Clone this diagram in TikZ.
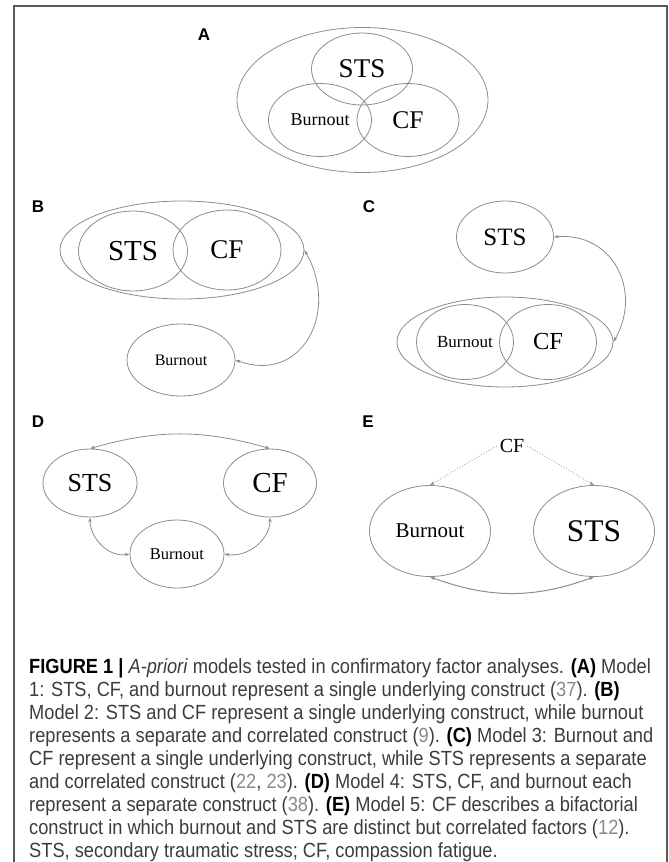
\documentclass[tikz,border=0pt]{standalone}
\usepackage{fontspec}
\setmainfont{Liberation Serif}
\setsansfont{Liberation Sans}
\newfontfamily\capfont[FakeStretch=0.89]{Liberation Sans}
\usetikzlibrary{shapes.geometric,arrows.meta}
\definecolor{linegray}{HTML}{8C8C8C}
\definecolor{framegray}{HTML}{5A5A5A}
\definecolor{textgray}{HTML}{3C3C3C}
\definecolor{refgray}{HTML}{8A8A8A}
\newcommand{\fsz}[1]{\fontsize{#1}{#1}\selectfont}
\newcommand{\refno}[1]{{\color{refgray}#1}}
\tikzset{
	factor/.style={ellipse, draw=linegray, line width=0.8pt, inner sep=0pt},
	panellabel/.style={font=\sffamily\bfseries\fsz{17}},
	corr/.style={{Stealth[length=5pt,width=3.5pt]}-{Stealth[length=5pt,width=3.5pt]}, draw=linegray, line width=0.8pt},
	load/.style={-{Stealth[length=5pt,width=3.5pt]}, draw=linegray, dotted, line width=0.8pt},
}
\begin{document}
\begin{tikzpicture}[x=1pt,y=-1pt]
		\useasboundingbox (0,0) rectangle (669,862);
		%Frame, open at the bottom
		\draw[framegray, line width=2pt] (14,862) -- (14,6) -- (667,6) -- (667,862);
		%Model 1
		\node[panellabel] (labA) at (204,35) {A};
		\node[factor, minimum width=251pt, minimum height=145pt] (outA) at (362.5,100) {};
		\node[factor, minimum width=101pt, minimum height=72pt, font=\fsz{27}] (stsA) at (362,69) {STS};
		\node[factor, minimum width=103pt, minimum height=73pt, font=\fsz{18}] (burnA) at (320,120) {Burnout};
		\node[factor, minimum width=102pt, minimum height=73pt, font=\fsz{25.5}] (cfA) at (408,120) {CF};
		%Model 2
		\node[panellabel] (labB) at (38,207) {B};
		\node[factor, minimum width=244pt, minimum height=98pt] (outB) at (182,250) {};
		\node[factor, minimum width=109pt, minimum height=80pt, font=\fsz{29}] (stsB) at (133,251) {STS};
		\node[factor, minimum width=108pt, minimum height=80pt, font=\fsz{27}] (cfB) at (227,250) {CF};
		\node[factor, minimum width=108pt, minimum height=72pt, font=\fsz{16}] (burnB) at (181,360) {Burnout};
		\draw[corr] (outB.east) to[out=-60, in=-20, looseness=1.4] (burnB.east);
		%Model 3
		\node[panellabel] (labC) at (369,207) {C};
		\node[factor, minimum width=97pt, minimum height=72pt, font=\fsz{25}] (stsC) at (505,237) {STS};
		\node[factor, minimum width=216pt, minimum height=90pt] (outC) at (505,342) {};
		\node[factor, minimum width=97pt, minimum height=75pt, font=\fsz{17}] (burnC) at (465,342) {Burnout};
		\node[factor, minimum width=97pt, minimum height=75pt, font=\fsz{24.5}] (cfC) at (548,342) {CF};
		\draw[corr] (stsC.east) to[out=5, in=60, looseness=1.25] (outC.east);
		%Model 4
		\node[panellabel] (labD) at (38,422) {D};
		\node[factor, minimum width=94pt, minimum height=68pt, font=\fsz{26}] (stsD) at (90,483) {STS};
		\node[factor, minimum width=93pt, minimum height=68pt, font=\fsz{29}] (cfD) at (270,483) {CF};
		\node[factor, minimum width=94pt, minimum height=68pt, font=\fsz{16.5}] (burnD) at (177,554) {Burnout};
		\draw[corr] (stsD.north) to[bend left=16] (cfD.north);
		\draw[corr] (stsD.south) to[out=-90, in=190] (burnD.west);
		\draw[corr] (cfD.south) to[out=-90, in=-10] (burnD.east);
		%Model 5
		\node[panellabel] (labE) at (368,422) {E};
		\node[font=\fsz{20}, inner sep=3pt] (cfE) at (512,446) {CF};
		\node[factor, minimum width=121pt, minimum height=91pt, font=\fsz{21}] (burnE) at (430,531) {Burnout};
		\node[factor, minimum width=121pt, minimum height=91pt, font=\fsz{31.5}] (stsE) at (594,531) {STS};
		\draw[load] (cfE.west) -- (burnE.north);
		\draw[load] (cfE.east) -- (stsE.north);
		\draw[corr, line width=1pt] (burnE.south) to[bend right=20] (stsE.south);
		%Caption
		\node[anchor=north west, align=left, inner sep=0pt, text=textgray, font=\capfont\fontsize{20.5}{23}\selectfont] (caption) at (29,658) {%
			{\color{black}\textbf{FIGURE 1 |}} \textit{A-priori} models tested in confirmatory factor analyses. {\color{black}\textbf{(A)}} Model\\
			1: STS, CF, and burnout represent a single underlying construct (\refno{37}). {\color{black}\textbf{(B)}}\\
			Model 2: STS and CF represent a single underlying construct, while burnout\\
			represents a separate and correlated construct (\refno{9}). {\color{black}\textbf{(C)}} Model 3: Burnout and\\
			CF represent a single underlying construct, while STS represents a separate\\
			and correlated construct (\refno{22}, \refno{23}). {\color{black}\textbf{(D)}} Model 4: STS, CF, and burnout each\\
			represent a separate construct (\refno{38}). {\color{black}\textbf{(E)}} Model 5: CF describes a bifactorial\\
			construct in which burnout and STS are distinct but correlated factors (\refno{12}).\\
			STS, secondary traumatic stress; CF, compassion fatigue.};
\end{tikzpicture}
\end{document}
